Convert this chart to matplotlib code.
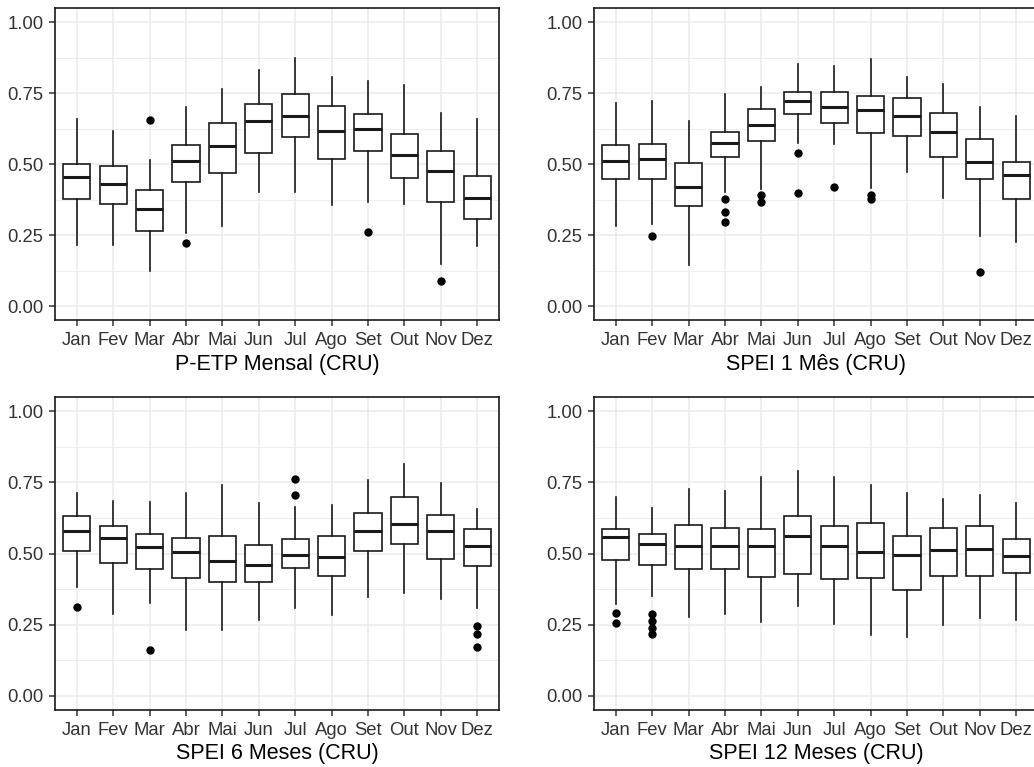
import numpy as np
import matplotlib.pyplot as plt

plt.rcParams['font.family'] = ['Liberation Sans', 'DejaVu Sans']

months = ['Jan', 'Fev', 'Mar', 'Abr', 'Mai', 'Jun', 'Jul', 'Ago', 'Set', 'Out', 'Nov', 'Dez']

# P-ETP Mensal (CRU)
petp_low = [0.214, 0.214, 0.126, 0.258, 0.282, 0.402, 0.402, 0.356, 0.368, 0.361, 0.149, 0.211]
petp_q1 = [0.379, 0.359, 0.266, 0.438, 0.468, 0.541, 0.595, 0.520, 0.546, 0.453, 0.366, 0.307]
petp_med = [0.455, 0.431, 0.341, 0.513, 0.565, 0.654, 0.669, 0.618, 0.625, 0.534, 0.478, 0.382]
petp_q3 = [0.500, 0.495, 0.411, 0.568, 0.645, 0.713, 0.749, 0.704, 0.676, 0.605, 0.546, 0.459]
petp_high = [0.659, 0.616, 0.516, 0.701, 0.764, 0.831, 0.873, 0.808, 0.793, 0.778, 0.679, 0.659]
petp_out = [[], [], [0.656], [0.224], [], [], [], [], [0.260], [], [0.088], []]

# SPEI 1 Mes (CRU)
spei1_low = [0.284, 0.289, 0.147, 0.402, 0.413, 0.576, 0.571, 0.416, 0.471, 0.382, 0.246, 0.226]
spei1_q1 = [0.447, 0.447, 0.353, 0.526, 0.582, 0.676, 0.646, 0.609, 0.599, 0.526, 0.447, 0.379]
spei1_med = [0.513, 0.518, 0.419, 0.576, 0.639, 0.724, 0.701, 0.692, 0.669, 0.612, 0.507, 0.462]
spei1_q3 = [0.567, 0.572, 0.505, 0.613, 0.696, 0.755, 0.755, 0.739, 0.734, 0.681, 0.588, 0.509]
spei1_high = [0.714, 0.721, 0.653, 0.747, 0.773, 0.852, 0.846, 0.872, 0.808, 0.784, 0.700, 0.669]
spei1_out = [[], [0.249], [], [0.379, 0.332, 0.295], [0.392, 0.368], [0.541, 0.400],
             [0.421], [0.392, 0.376], [], [], [0.119], []]

# SPEI 6 Meses (CRU)
spei6_low = [0.383, 0.289, 0.326, 0.231, 0.231, 0.268, 0.309, 0.284, 0.347, 0.361, 0.340, 0.310]
spei6_q1 = [0.508, 0.467, 0.446, 0.415, 0.399, 0.399, 0.450, 0.420, 0.508, 0.533, 0.482, 0.456]
spei6_med = [0.580, 0.553, 0.523, 0.506, 0.475, 0.460, 0.496, 0.487, 0.580, 0.604, 0.580, 0.526]
spei6_q3 = [0.632, 0.595, 0.569, 0.554, 0.560, 0.530, 0.550, 0.560, 0.643, 0.699, 0.636, 0.586]
spei6_high = [0.712, 0.686, 0.681, 0.712, 0.739, 0.677, 0.665, 0.670, 0.758, 0.816, 0.748, 0.655]
spei6_out = [[0.312], [], [0.161], [], [], [], [0.761, 0.704], [], [], [], [],
             [0.245, 0.218, 0.172]]

# SPEI 12 Meses (CRU)
spei12_low = [0.324, 0.350, 0.278, 0.289, 0.258, 0.314, 0.251, 0.215, 0.205, 0.247, 0.273, 0.267]
spei12_q1 = [0.476, 0.461, 0.446, 0.446, 0.417, 0.429, 0.410, 0.415, 0.373, 0.421, 0.421, 0.431]
spei12_med = [0.558, 0.532, 0.525, 0.525, 0.525, 0.562, 0.525, 0.505, 0.495, 0.511, 0.517, 0.491]
spei12_q3 = [0.586, 0.569, 0.601, 0.590, 0.586, 0.631, 0.595, 0.606, 0.560, 0.590, 0.595, 0.550]
spei12_high = [0.700, 0.660, 0.727, 0.718, 0.769, 0.790, 0.769, 0.739, 0.713, 0.692, 0.707, 0.677]
spei12_out = [[0.291, 0.254], [0.287, 0.263, 0.239, 0.216], [], [], [], [], [], [], [], [], [], []]

panels = [
    ('P-ETP Mensal (CRU)', petp_low, petp_q1, petp_med, petp_q3, petp_high, petp_out),
    ('SPEI 1 Mês (CRU)', spei1_low, spei1_q1, spei1_med, spei1_q3, spei1_high, spei1_out),
    ('SPEI 6 Meses (CRU)', spei6_low, spei6_q1, spei6_med, spei6_q3, spei6_high, spei6_out),
    ('SPEI 12 Meses (CRU)', spei12_low, spei12_q1, spei12_med, spei12_q3, spei12_high, spei12_out),
]

W, H = 1034, 767
fig = plt.figure(figsize=(W / 100, H / 100), dpi=100)

# axes rectangles in pixels: left, top, right, bottom
rects = [(55, 8, 499, 320.5), (594, 8, 1038, 320.5),
         (55, 397, 499, 710), (594, 397, 1038, 710)]


def draw_panel(ax, title, low, q1, med, q3, high, out):
    stats = []
    for i in range(len(months)):
        stats.append(dict(whislo=low[i], q1=q1[i], med=med[i], q3=q3[i],
                          whishi=high[i], fliers=out[i]))
    pos = np.arange(1, len(months) + 1)
    ax.bxp(stats, positions=pos, widths=0.75, showcaps=False, patch_artist=True,
           boxprops=dict(facecolor='white', edgecolor='#1a1a1a', linewidth=1.2),
           whiskerprops=dict(color='#1a1a1a', linewidth=1.2),
           medianprops=dict(color='#1a1a1a', linewidth=2.2),
           flierprops=dict(marker='o', markerfacecolor='black', markeredgecolor='black',
                           markersize=5, linestyle='none'),
           zorder=3)
    ax.set_xlim(0.4, 12.6)
    ax.set_ylim(-0.05, 1.05)
    ax.set_xticks(pos)
    ax.set_xticklabels(months)
    ax.set_yticks([0, 0.25, 0.5, 0.75, 1.0])
    ax.set_yticklabels(['0.00', '0.25', '0.50', '0.75', '1.00'])
    ax.set_yticks([0.125, 0.375, 0.625, 0.875], minor=True)
    ax.grid(True, which='major', color='#ebebeb', linewidth=1.1, zorder=0)
    ax.grid(True, which='minor', axis='y', color='#ebebeb', linewidth=0.6, zorder=0)
    ax.set_axisbelow(True)
    ax.tick_params(axis='both', which='major', length=4.3, width=1.1, color='#333333',
                   labelsize=13.3, labelcolor='#333333', pad=4)
    ax.tick_params(axis='y', which='minor', length=0)
    for s in ax.spines.values():
        s.set_color('#1a1a1a')
        s.set_linewidth(1.2)
    ax.set_xlabel(title, fontsize=15.5, color='black', labelpad=3.5)


for (l, t, r, b), p in zip(rects, panels):
    ax = fig.add_axes([l / W, 1 - b / H, (r - l) / W, (b - t) / H])
    draw_panel(ax, *p)

fig.savefig('out.png', dpi=100)
